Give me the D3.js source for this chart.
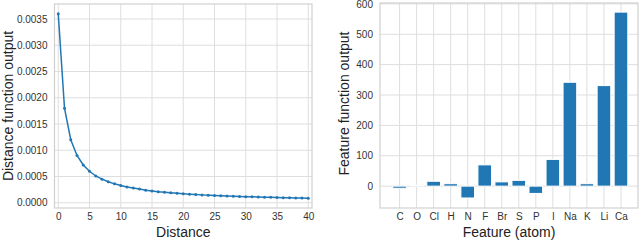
<!DOCTYPE html>
<meta charset="utf-8">
<script src="https://cdn.jsdelivr.net/npm/d3@7"></script>
<style>
  body { margin: 0; background: #fff; }
  svg { font-family: "Liberation Sans", Arial, sans-serif; }
  .tick text { fill: #333; font-size: 10px; }
  .lab { fill: #222; font-size: 14px; }
</style>
<svg id="graph" width="640" height="240"></svg>
<script>

// left panel: distance function output, distances 0..40
var distances = d3.range(0, 41);
var distOutput = [0.0036, 0.0018, 0.0012, 0.0009, 0.00072, 0.0006, 0.00051, 0.00045, 0.0004, 0.00036,
  0.00033, 0.0003, 0.00028, 0.00026, 0.00024, 0.000225, 0.00021, 0.0002, 0.00019, 0.00018,
  0.00017, 0.000164, 0.000157, 0.00015, 0.000144, 0.000138, 0.000133, 0.000129, 0.000124, 0.00012,
  0.000116, 0.000113, 0.000109, 0.000106, 0.000103, 0.0001, 0.000097, 0.000095, 0.000092, 0.00009, 0.000088];
var distTicksX = [0, 5, 10, 15, 20, 25, 30, 35, 40];
var distTicksY = [0, 0.0005, 0.001, 0.0015, 0.002, 0.0025, 0.003, 0.0035];

// right panel: feature function output per atom
var atoms = ["C", "O", "Cl", "H", "N", "F", "Br", "S", "P", "I", "Na", "K", "Li", "Ca"];
var featOutput = [-7, 3, 16, 8, -39, 70, 14, 19, -24, 88, 342, 8, 331, 573];
var featTicksY = [0, 100, 200, 300, 400, 500, 600];

var blue = "#2077b4";
var gridColor = "#dedede";
var svg = d3.select("#graph");

function frame(g, w, h) {
  g.append("rect")
    .attr("width", w).attr("height", h)
    .attr("fill", "none").attr("stroke", "#d0d0d0").attr("stroke-width", 1.2);
}

// ---------- left chart ----------
var L = {left: 54.5, top: 4, width: 257.5, height: 204};
var gl = svg.append("g").attr("transform", "translate(" + L.left + "," + L.top + ")");

var x1 = d3.scaleLinear().domain([-0.6, 40.6]).range([0, L.width]);
var y1 = d3.scaleLinear().domain([-0.0001, 0.003786]).range([L.height, 0]);

gl.append("g").selectAll("line").data(distTicksX).enter().append("line")
  .attr("x1", d => x1(d)).attr("x2", d => x1(d))
  .attr("y1", 0).attr("y2", L.height)
  .attr("stroke", gridColor).attr("stroke-width", 1);
gl.append("g").selectAll("line").data(distTicksY).enter().append("line")
  .attr("y1", d => y1(d)).attr("y2", d => y1(d))
  .attr("x1", 0).attr("x2", L.width)
  .attr("stroke", gridColor).attr("stroke-width", 1);

frame(gl, L.width, L.height);

gl.append("g")
  .attr("transform", "translate(0," + L.height + ")")
  .call(d3.axisBottom(x1).tickValues(distTicksX).tickSize(0).tickPadding(5))
  .call(g => g.select(".domain").remove());
gl.append("g")
  .call(d3.axisLeft(y1).tickValues(distTicksY).tickSize(0).tickPadding(7).tickFormat(d3.format(".4f")))
  .call(g => g.select(".domain").remove());

var line = d3.line()
  .x((d, i) => x1(distances[i]))
  .y(d => y1(d));

gl.append("path")
  .datum(distOutput)
  .attr("d", line)
  .attr("fill", "none")
  .attr("stroke", blue)
  .attr("stroke-width", 1.5);

gl.append("g").selectAll("circle").data(distOutput).enter().append("circle")
  .attr("cx", (d, i) => x1(distances[i]))
  .attr("cy", d => y1(d))
  .attr("r", 1.5)
  .attr("fill", blue);

svg.append("text").attr("class", "lab")
  .attr("x", L.left + L.width / 2).attr("y", 237)
  .attr("text-anchor", "middle").text("Distance");
svg.append("text").attr("class", "lab")
  .attr("transform", "translate(12.5," + (L.top + L.height / 2) + ") rotate(-90)")
  .attr("text-anchor", "middle").text("Distance function output");

// ---------- right chart ----------
var R = {left: 380, top: 3, width: 258, height: 205};
var gr = svg.append("g").attr("transform", "translate(" + R.left + "," + R.top + ")");

var x2 = d3.scaleLinear().domain([-1.15, 14.0]).range([0, R.width]);
var y2 = d3.scaleLinear().domain([-72, 603]).range([R.height, 0]);

gr.append("g").selectAll("line").data(atoms).enter().append("line")
  .attr("x1", (d, i) => x2(i)).attr("x2", (d, i) => x2(i))
  .attr("y1", 0).attr("y2", R.height)
  .attr("stroke", gridColor).attr("stroke-width", 1);
gr.append("g").selectAll("line").data(featTicksY).enter().append("line")
  .attr("y1", d => y2(d)).attr("y2", d => y2(d))
  .attr("x1", 0).attr("x2", R.width)
  .attr("stroke", gridColor).attr("stroke-width", 1);

frame(gr, R.width, R.height);

gr.append("g")
  .attr("transform", "translate(0," + R.height + ")")
  .call(d3.axisBottom(x2).tickValues(d3.range(atoms.length)).tickSize(0).tickPadding(5)
    .tickFormat(i => atoms[i]))
  .call(g => g.select(".domain").remove());
gr.append("g")
  .call(d3.axisLeft(y2).tickValues(featTicksY).tickSize(0).tickPadding(7))
  .call(g => g.select(".domain").remove());

gr.append("g").selectAll("rect").data(featOutput).enter().append("rect")
  .attr("x", (d, i) => x2(i - 0.4))
  .attr("width", x2(0.8) - x2(0))
  .attr("y", d => y2(Math.max(0, d)))
  .attr("height", d => Math.abs(y2(d) - y2(0)))
  .attr("fill", blue)
  .attr("stroke", "#fff")
  .attr("stroke-width", 1);

svg.append("text").attr("class", "lab")
  .attr("x", R.left + R.width / 2).attr("y", 237)
  .attr("text-anchor", "middle").text("Feature (atom)");
svg.append("text").attr("class", "lab")
  .attr("transform", "translate(349," + (R.top + R.height / 2 - 2) + ") rotate(-90)")
  .attr("text-anchor", "middle").text("Feature function output");

</script>
